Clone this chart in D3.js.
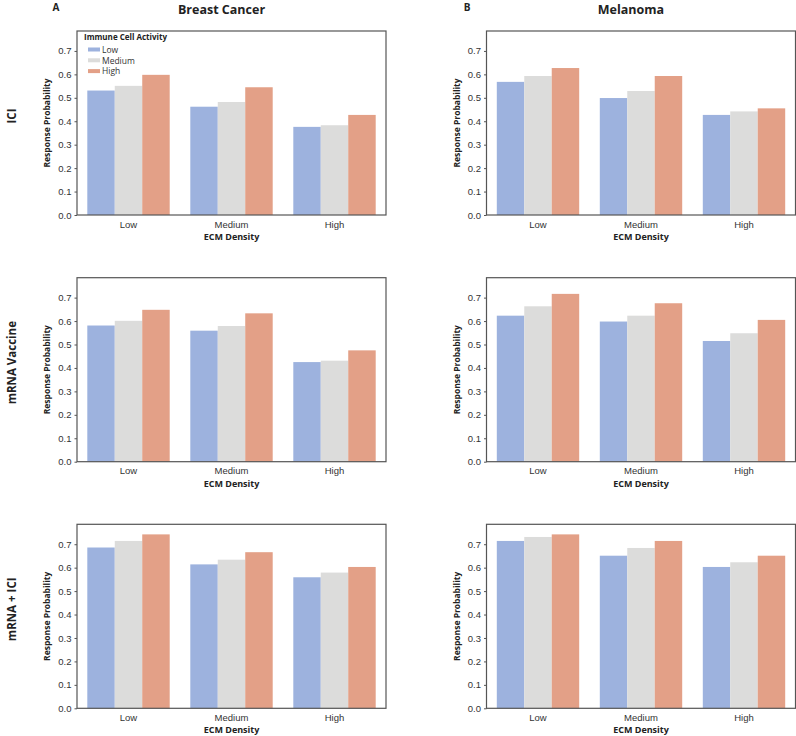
<!DOCTYPE html>
<html>
<head>
<meta charset="utf-8">
<script src="https://cdn.jsdelivr.net/npm/d3@7/dist/d3.min.js"></script>
<style>
  body { margin: 0; background: #fff; }
  svg { font-family: "Open Sans", "Noto Sans", sans-serif; }
  .tick text { fill: #333; font-size: 9.5px; }
  .tick line { stroke: #555; }
  .axis path { display: none; }
</style>
</head>
<body>
<svg id="chart" width="796" height="736"></svg>
<script>
// categories
const ecmLevels = ["Low", "Medium", "High"];
const immuneLevels = ["Low", "Medium", "High"];
const cancers = ["Breast Cancer", "Melanoma"];
const panelLetters = ["A", "B"];
const therapies = ["ICI", "mRNA Vaccine", "mRNA + ICI"];
const yTicks = [0, 0.1, 0.2, 0.3, 0.4, 0.5, 0.6, 0.7];

// values: [ecm][immune] response probability
const iciBreast = [[0.531, 0.551, 0.598], [0.462, 0.482, 0.545], [0.376, 0.383, 0.427]];
const iciMelanoma = [[0.568, 0.593, 0.627], [0.499, 0.529, 0.593], [0.427, 0.442, 0.455]];
const vaccineBreast = [[0.581, 0.601, 0.648], [0.559, 0.579, 0.633], [0.425, 0.431, 0.475]];
const vaccineMelanoma = [[0.623, 0.663, 0.716], [0.598, 0.623, 0.676], [0.515, 0.548, 0.605]];
const comboBreast = [[0.686, 0.714, 0.742], [0.614, 0.634, 0.666], [0.559, 0.579, 0.603]];
const comboMelanoma = [[0.714, 0.731, 0.742], [0.651, 0.684, 0.714], [0.603, 0.623, 0.651]];

const panelData = [
  [iciBreast, iciMelanoma],
  [vaccineBreast, vaccineMelanoma],
  [comboBreast, comboMelanoma]
];

const colors = d3.scaleOrdinal().domain(immuneLevels).range(["#9db2de", "#dcdcdb", "#e3a087"]);

const svg = d3.select("#chart");

// layout
const colX = [77, 486.5];
const rowY = [31, 277.7, 524.3];
const pw = 309, ph = 184;

const x = d3.scaleBand().domain(ecmLevels).range([0, pw]).paddingInner(0.2).paddingOuter(0.1);
const xHue = d3.scaleBand().domain(immuneLevels).range([0, x.bandwidth()]);
const y = d3.scaleLinear().domain([0, 0.785]).range([ph, 0]);

// column headers
cancers.forEach((name, c) => {
  svg.append("text")
    .attr("x", colX[c] + pw / 2 - 10)
    .attr("y", 14)
    .attr("text-anchor", "middle")
    .style("font-weight", 700)
    .style("font-size", "12.5px")
    .style("fill", "#222")
    .text(name);
  svg.append("text")
    .attr("x", c === 0 ? 56 : 467)
    .attr("y", 11)
    .attr("text-anchor", "middle")
    .style("font-weight", 700)
    .style("font-size", "10px")
    .style("fill", "#222")
    .text(panelLetters[c]);
});

// row labels
therapies.forEach((name, r) => {
  svg.append("text")
    .attr("transform", `translate(16, ${rowY[r] + ph / 2 - 7}) rotate(-90)`)
    .attr("text-anchor", "middle")
    .style("font-weight", 700)
    .style("font-size", "11.5px")
    .style("fill", "#222")
    .text(name);
});

panelData.forEach((row, r) => {
  row.forEach((vals, c) => {
    const g = svg.append("g").attr("transform", `translate(${colX[c]}, ${rowY[r]})`);

    // bars
    const groups = g.selectAll(".grp")
      .data(ecmLevels.map((e, i) => ({ ecm: e, vals: vals[i] })))
      .enter()
      .append("g")
      .attr("transform", d => `translate(${x(d.ecm)}, 0)`);

    groups.selectAll("rect")
      .data(d => immuneLevels.map((k, j) => ({ key: k, value: d.vals[j] })))
      .enter()
      .append("rect")
      .attr("x", d => xHue(d.key))
      .attr("width", xHue.bandwidth())
      .attr("y", d => y(d.value))
      .attr("height", d => y(0) - y(d.value))
      .style("fill", d => colors(d.key));

    // axes
    g.append("g")
      .attr("class", "axis")
      .call(d3.axisLeft(y).tickValues(yTicks).tickSize(2.5).tickPadding(3).tickFormat(d3.format(".1f")));

    g.append("g")
      .attr("class", "axis")
      .attr("transform", `translate(0, ${ph})`)
      .call(d3.axisBottom(x).tickSize(0).tickPadding(6));

    // frame
    g.append("rect")
      .attr("width", pw)
      .attr("height", ph)
      .style("fill", "none")
      .style("stroke", "#555")
      .style("stroke-width", 1.2);

    // axis labels
    g.append("text")
      .attr("transform", `translate(-27, ${ph / 2}) rotate(-90)`)
      .attr("text-anchor", "middle")
      .style("font-weight", 700)
      .style("font-size", "8.5px")
      .style("fill", "#222")
      .text("Response Probability");

    g.append("text")
      .attr("x", pw / 2)
      .attr("y", ph + 25)
      .attr("text-anchor", "middle")
      .style("font-weight", 700)
      .style("font-size", "9px")
      .style("fill", "#222")
      .text("ECM Density");

    // legend only on first panel
    if (r === 0 && c === 0) {
      const lg = g.append("g").attr("transform", "translate(7, 0)");
      lg.append("text")
        .attr("x", 0)
        .attr("y", 9)
        .style("font-weight", 700)
        .style("font-size", "8px")
        .style("fill", "#222")
        .text("Immune Cell Activity");
      immuneLevels.forEach((k, j) => {
        lg.append("rect")
          .attr("x", 4)
          .attr("y", 16.5 + j * 10.8)
          .attr("width", 12)
          .attr("height", 4)
          .style("fill", colors(k));
        lg.append("text")
          .attr("x", 18)
          .attr("y", 21.8 + j * 10.8)
          .style("font-size", "8.5px")
          .style("fill", "#333")
          .text(k);
      });
    }
  });
});
</script>
</body>
</html>
